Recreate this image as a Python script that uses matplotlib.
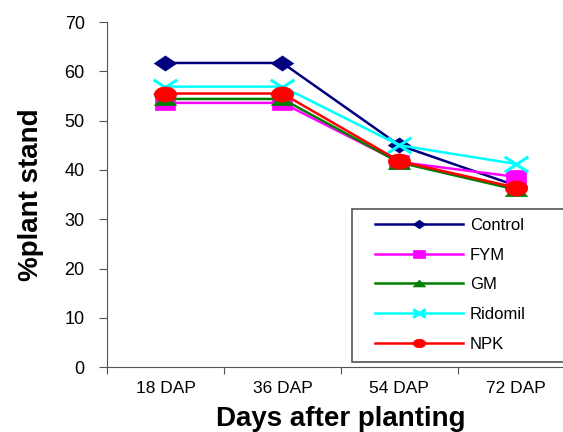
import matplotlib.pyplot as plt
import numpy as np
from matplotlib.path import Path
from matplotlib.patches import Rectangle

days = ['18 DAP', '36 DAP', '54 DAP', '72 DAP']
control = [61.7, 61.7, 45.0, 36.8]
fym = [53.6, 53.6, 41.6, 38.6]
gm = [54.4, 54.4, 41.5, 36.0]
ridomil = [56.9, 56.9, 45.0, 41.2]
npk = [55.5, 55.5, 41.8, 36.4]

# flattened markers (the original looks stretched sideways)
t = np.linspace(0, 2 * np.pi, 41)
ellipse = Path(np.column_stack([np.cos(t), 0.68 * np.sin(t)]), closed=True)
diamond = Path([(0, 0.68), (1, 0), (0, -0.68), (-1, 0), (0, 0.68)], closed=True)
square = Path([(-1, -0.7), (1, -0.7), (1, 0.7), (-1, 0.7), (-1, -0.7)], closed=True)
triangle = Path([(-1, -0.55), (1, -0.55), (0, 0.55), (-1, -0.55)], closed=True)
cross = Path([(-1, -0.65), (1, 0.65), (-1, 0.65), (1, -0.65)],
             [Path.MOVETO, Path.LINETO, Path.MOVETO, Path.LINETO])

series = [
    ('Control', control, '#000080', diamond, 16),
    ('FYM', fym, '#FF00FF', square, 14),
    ('GM', gm, '#008000', triangle, 16),
    ('Ridomil', ridomil, '#00FFFF', cross, 17),
    ('NPK', npk, '#FF0000', ellipse, 16),
]

plt.rcParams['font.family'] = ['Liberation Sans', 'DejaVu Sans']

fig = plt.figure(figsize=(5.63, 4.32), dpi=100)
ax = fig.add_axes([0.19, 0.150, 0.831, 0.799])

x = np.arange(len(days))
for name, vals, col, mk, ms in series:
    ax.plot(x, vals, color=col, marker=mk, markersize=ms, linewidth=1.8,
            markeredgewidth=2.2 if mk is cross else 0.5, label=name)

ax.set_xlim(-0.5, 3.5)
ax.set_ylim(0, 70)
ax.set_yticks(range(0, 71, 10))
ax.set_xticks(np.arange(-0.5, 4, 1))
ax.set_xticklabels([])
ax.set_xticks(x, minor=True)
ax.set_xticklabels(days, minor=True, fontsize=12.5)
ax.tick_params(axis='x', which='minor', length=0, pad=10)
ax.tick_params(axis='x', which='major', length=5, direction='out', color='#555555')
ax.tick_params(axis='y', length=6, direction='out', color='#555555', labelsize=13, pad=10)

for s in ['top', 'right']:
    ax.spines[s].set_visible(False)
for s in ['left', 'bottom']:
    ax.spines[s].set_color('#555555')

ax.set_ylabel('%plant stand', fontsize=20, fontweight='bold', labelpad=15)
ax.set_xlabel('Days after planting', fontsize=20, fontweight='bold', labelpad=7)

# legend box runs off the right edge of the picture
ax.add_patch(Rectangle((0.5235, 0.0145), 0.6, 0.4435, transform=ax.transAxes,
                       facecolor='white', edgecolor='#555555', linewidth=1.2,
                       clip_on=False, zorder=4))
leg = ax.legend(loc='upper left', bbox_to_anchor=(0.5726, 0.4325), fontsize=12,
                handlelength=5.3, handletextpad=0.4, labelspacing=0.88,
                borderpad=0, borderaxespad=0, frameon=False)
leg.set_zorder(5)
for ln in leg.get_lines():
    ln.set_markersize(9)

fig.savefig('out.png', dpi=100)
